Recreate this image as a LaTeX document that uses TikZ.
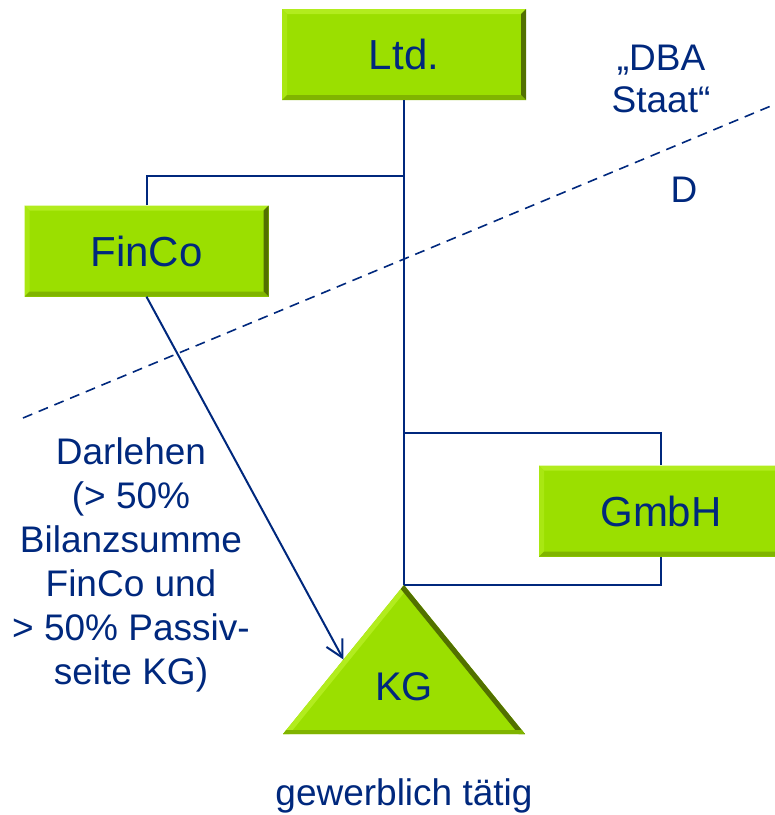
\documentclass[tikz,border=0pt]{standalone}
\usepackage{fontspec}
\setmainfont{Liberation Sans}
\usetikzlibrary{positioning,calc,arrows.meta}

\definecolor{navy}{RGB}{0,40,125}
\definecolor{lime}{RGB}{155,223,0}
\definecolor{limelight}{RGB}{178,236,30}
\definecolor{limemid}{RGB}{128,180,0}
\definecolor{limedark}{RGB}{82,112,0}

\def\ppbb{path picture bounding box}

\tikzset{
    bevel/.style={path picture={
        \fill[limelight] (\ppbb.north west) -- (\ppbb.north east)
            -- ([shift={(-5pt,-5pt)}]\ppbb.north east) -- ([shift={(5pt,-5pt)}]\ppbb.north west) -- cycle;
        \fill[limelight!60!lime] (\ppbb.north west) -- (\ppbb.south west)
            -- ([shift={(5pt,5pt)}]\ppbb.south west) -- ([shift={(5pt,-5pt)}]\ppbb.north west) -- cycle;
        \fill[limedark] (\ppbb.north east) -- (\ppbb.south east)
            -- ([shift={(-5pt,5pt)}]\ppbb.south east) -- ([shift={(-5pt,-5pt)}]\ppbb.north east) -- cycle;
        \fill[limemid] (\ppbb.south west) -- (\ppbb.south east)
            -- ([shift={(-5pt,5pt)}]\ppbb.south east) -- ([shift={(5pt,5pt)}]\ppbb.south west) -- cycle;
    }},
    entity/.style={bevel, fill=lime, minimum width=244pt, minimum height=91pt,
        inner sep=0pt, text=navy, font=\fontsize{42}{50}\selectfont},
    note/.style={align=center, text=navy, inner sep=0pt, font=\fontsize{37}{44}\selectfont},
    link/.style={draw=navy, line width=2pt},
}

\begin{document}
\begin{tikzpicture}[x=1pt, y=-1pt, >={Straight Barb[length=17pt,width=18pt]}]
    \useasboundingbox (0,0) rectangle (775,815);

    % border line
    \coordinate (borderL) at (23,418);
    \coordinate (borderR) at (790,98);
    \draw[navy, line width=1.6pt, dash pattern=on 10pt off 7pt] (borderL) -- (borderR);

    % companies
    \node[entity] (ltd) at (404,54.5) {Ltd.};
    \node[entity] (finco) at (146.5,251) {FinCo};
    \node[entity] (gmbh) at (661,511) {GmbH};

    % KG triangle
    \coordinate (kgapex) at (404,585);
    \coordinate (kgbl) at (283,734);
    \coordinate (kgbr) at (525,734);
    \coordinate (kgleft) at ($(kgapex)!0.5!(kgbl)$);
    \fill[lime] (kgapex) -- (kgbr) -- (kgbl) -- cycle;
    \begin{scope}
        \clip (kgapex) -- (kgbr) -- (kgbl) -- cycle;
        \draw[limelight, line width=10pt] (kgbl) -- (kgapex);
        \draw[limedark, line width=10pt] (kgapex) -- (kgbr);
        \draw[limemid, line width=8pt] (kgbr) -- (kgbl);
    \end{scope}
    \node[note, anchor=base, font=\fontsize{40}{48}\selectfont] (kg) at (404,700) {KG};

    % ownership lines
    \coordinate (hubA) at (404,176);
    \coordinate (hubB) at (404,433);
    \draw[link] (ltd.south) -- (kgapex);
    \draw[link] (finco.north) |- (hubA);
    \draw[link] (hubB) -| (gmbh.north);
    \draw[link] (gmbh.south) |- (kgapex);

    % loan
    \draw[link, ->] (finco.south) -- (kgleft);

    % labels
    \node[note, font=\fontsize{37}{42}\selectfont] (dba) at (661,79) {„DBA\\Staat“};
    \node[note] (de) at (684,190) {D};
    \node[note] (loan) at (131,565) {Darlehen\\(> 50\%\\Bilanzsumme\\FinCo und\\> 50\% Passiv-\\seite KG)};
    \node[note, anchor=base] (trade) at (404,805) {gewerblich tätig};
\end{tikzpicture}
\end{document}
